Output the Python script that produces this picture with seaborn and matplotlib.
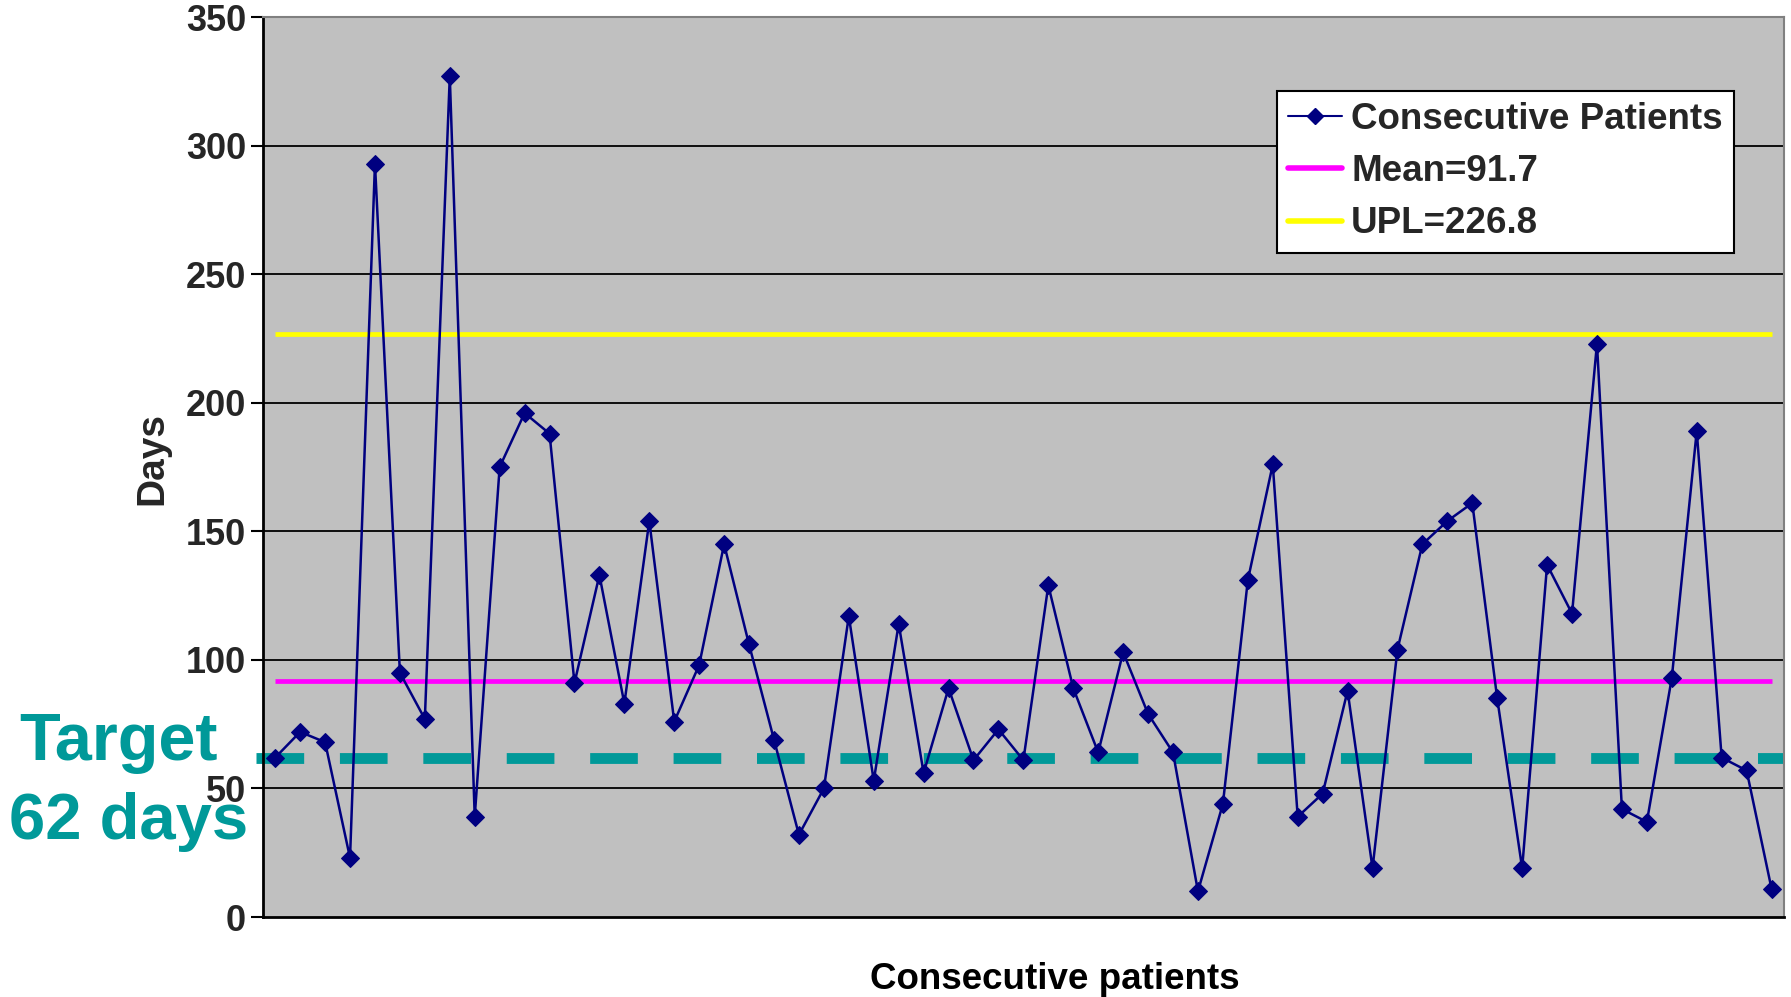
import numpy as np
import pandas as pd
import matplotlib
matplotlib.use("Agg")
import matplotlib.pyplot as plt
from matplotlib.lines import Line2D
import seaborn as sns

# Days to treatment for each consecutive patient
days = [62, 72, 68, 23, 293, 95, 77, 327, 39, 175,
        196, 188, 91, 133, 83, 154, 76, 98, 145, 106,
        69, 32, 50, 117, 53, 114, 56, 89, 61, 73,
        61, 129, 89, 64, 103, 79, 64, 10, 44, 131,
        176, 39, 48, 88, 19, 104, 145, 154, 161, 85,
        19, 137, 118, 223, 42, 37, 93, 189, 62, 57, 11]
patients = list(range(1, len(days) + 1))

mean_value = 91.7
upl_value = 226.8
target_value = 62

y_ticks = [0, 50, 100, 150, 200, 250, 300, 350]

series_label = "Consecutive Patients"
mean_label = f"Mean={mean_value}"
upl_label = f"UPL={upl_value}"
x_title = "Consecutive patients"
y_title = "Days"
target_lines = ["Target", "62 days"]

df = pd.DataFrame({"patient": patients, "days": days})

sns.set_theme(style="white")
plt.rcParams["font.family"] = ["Liberation Sans", "DejaVu Sans"]
plt.rcParams["font.weight"] = "bold"

fig = plt.figure(figsize=(17.91, 9.97), dpi=100)
ax = fig.add_axes([0.1467, 0.0802, 0.8494, 0.9027])
ax.set_facecolor("#C0C0C0")

navy = "#000080"
teal = "#009999"

# horizontal grid
for t in y_ticks[1:-1]:
    ax.axhline(t, color="black", lw=1.3, zorder=1)

# target dashed line
ax.axhline(target_value, xmin=-0.0044, xmax=1.0, color=teal, lw=7.8,
           dashes=(4.4, 3.3), zorder=2, clip_on=False,
           dash_capstyle="butt")

# mean and upper process limit
ax.hlines(mean_value, patients[0], patients[-1], color="#FF00FF", lw=3.4, zorder=3)
ax.hlines(upl_value, patients[0], patients[-1], color="#FFFF00", lw=3.4, zorder=3)

sns.lineplot(data=df, x="patient", y="days", ax=ax, color=navy, lw=1.8,
             marker="D", markersize=9, markeredgecolor=navy,
             markerfacecolor=navy, zorder=4, legend=False)

ax.set_xlim(0.5, len(days) + 0.5)
ax.set_ylim(0, 350)
ax.set_yticks(y_ticks)
ax.set_yticklabels([str(t) for t in y_ticks], fontsize=26, fontweight="bold")
ax.set_xticks([])
ax.tick_params(axis="y", direction="out", length=9, width=1.5, pad=3,
               left=True, color="black")
ax.set_xlabel("")
ax.set_ylabel(y_title, fontsize=28, fontweight="bold")
ax.yaxis.label.set_verticalalignment("center")
ax.yaxis.set_label_coords(-0.0728, 0.51)

for side in ["left", "bottom"]:
    ax.spines[side].set_color("black")
    ax.spines[side].set_linewidth(2)
for side in ["top", "right"]:
    ax.spines[side].set_color("#808080")
    ax.spines[side].set_linewidth(1.5)

fig.text(0.589, 0.018, x_title, ha="center", va="center",
         fontsize=26.5, fontweight="bold", color="black")

# target annotation
fig.text(0.0664, 0.238, target_lines[0], ha="center", va="baseline",
         fontsize=48, fontweight="bold", color=teal, zorder=10)
fig.text(0.0718, 0.158, target_lines[1], ha="center", va="baseline",
         fontsize=47, fontweight="bold", color=teal, zorder=10)

handles = [
    Line2D([], [], color=navy, lw=1.5, marker="D", markersize=8,
           markerfacecolor=navy, markeredgecolor=navy),
    Line2D([], [], color="#FF00FF", lw=4),
    Line2D([], [], color="#FFFF00", lw=4),
]
leg = ax.legend(handles, [series_label, mean_label, upl_label],
                loc="upper left", bbox_to_anchor=(0.667, 0.918),
                frameon=True, fancybox=False, framealpha=1,
                prop={"size": 26.5, "weight": "bold"},
                handlelength=1.45, handletextpad=0.25, labelspacing=0.47,
                borderpad=0.3, borderaxespad=0)
leg.get_frame().set_edgecolor("black")
leg.get_frame().set_linewidth(1.5)
leg.set_zorder(6)

fig.savefig("out.png", dpi=100)
